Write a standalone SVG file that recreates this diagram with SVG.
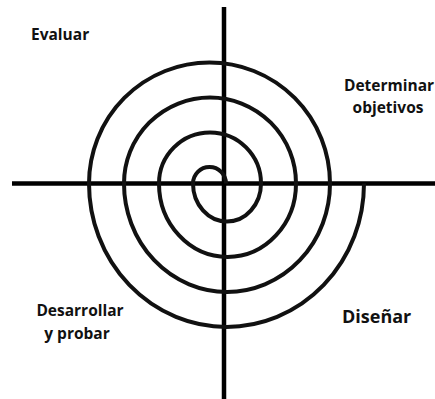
<svg xmlns="http://www.w3.org/2000/svg" width="435" height="399" viewBox="0 0 435 399">
<style>
.ax{stroke:#000;stroke-width:4.5;fill:none}
.sp{stroke:#111;stroke-width:4;fill:none}
.lb{font-family:"Open Sans","Liberation Sans",sans-serif;font-weight:bold;fill:#111;font-size:15.5px}
</style>
<rect width="435" height="399" fill="#fff"/>
<g id="connectors">
<line class="ax" x1="12" y1="183.5" x2="435" y2="183.5"/>
<line class="ax" x1="224" y1="7" x2="224" y2="399"/>
<path class="sp" d="M226,183.5 A16,16 0 0 0 193,183.5 A34,38 0 0 0 261,183.5 A51,51 0 0 0 159,183.5 A68.5,73.5 0 0 0 296,183.5 A86,86 0 0 0 124,183.5 A103,108.5 0 0 0 330,183.5 A120.5,121 0 0 0 89,183.5 A137.5,143.5 0 0 0 364,183.5"/>
</g>
<g id="evaluar"><text class="lb" x="31" y="40">Evaluar</text></g>
<g id="determinar"><text class="lb" x="389" y="90.5" text-anchor="middle">Determinar</text><text class="lb" x="388" y="113" text-anchor="middle">objetivos</text></g>
<g id="desarrollar"><text class="lb" x="80" y="315.5" text-anchor="middle">Desarrollar</text><text class="lb" x="77" y="339" text-anchor="middle">y probar</text></g>
<g id="disenar"><text class="lb" x="342" y="322.5" style="font-size:18px">Diseñar</text></g>
</svg>
